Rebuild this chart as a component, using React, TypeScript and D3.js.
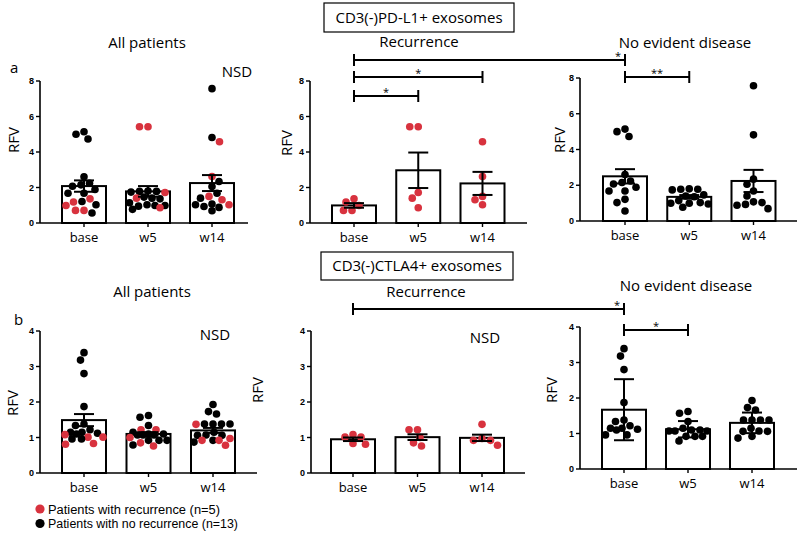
import React from "react";
import * as d3 from "d3";

// ---------- DATA ----------
const categories = ["base", "w5", "w14"];

// CD3(-)PD-L1+ exosomes, patients with recurrence (red, n=5)
const pdl1RecBase = [1.36, 0.99, 1.18, 0.71, 0.71];
const pdl1RecW5 = [5.42, 5.42, 1.72, 1.4, 0.86];
const pdl1RecW14 = [4.58, 2.62, 1.5, 1.31, 1.03];
// CD3(-)PD-L1+ exosomes, no evident disease (black, n=13)
const pdl1NedBase = [5.0, 4.73, 5.14, 2.6, 2.24, 2.15, 2.07, 1.89, 1.68, 1.68, 1.21, 1.03, 0.56];
const pdl1NedW5 = [1.74, 1.8, 1.78, 1.78, 1.46, 1.4, 1.36, 0.99, 0.95, 1.03, 0.99, 1.14, 0.77];
const pdl1NedW14 = [7.57, 4.82, 2.34, 2.06, 1.68, 1.4, 1.03, 0.93, 0.69, 0.88, 1.07];

// CD3(-)CTLA4+ exosomes
const ctlaRecBase = [1.01, 1.08, 1.01, 0.81, 0.83];
const ctlaRecW5 = [1.22, 1.22, 1.0, 0.85, 0.76];
const ctlaRecW14 = [1.37, 0.92, 0.92, 0.97, 0.78];
const ctlaNedBase = [3.39, 3.18, 2.8, 1.87, 1.34, 1.38, 1.12, 1.1, 1.22, 1.15, 1.15, 0.96, 0.96];
const ctlaNedW5 = [1.62, 1.57, 1.34, 1.1, 1.07, 1.07, 1.1, 1.07, 1.15, 0.92, 0.92, 0.92, 0.79];
const ctlaNedW14 = [1.93, 1.73, 1.66, 1.38, 1.38, 1.38, 1.38, 1.06, 1.06, 1.15, 1.07, 0.87, 0.92];

// bar heights (mean) and error bars
const pdl1MeanAll = [2.08, 1.78, 2.25];
const pdl1ErrAll = [0.32, 0.3, 0.45];
const pdl1MeanRec = [0.99, 2.97, 2.23];
const pdl1ErrRec = [0.13, 1.0, 0.65];
const pdl1MeanNed = [2.5, 1.35, 2.24];
const pdl1ErrNed = [0.4, 0.1, 0.62];
const ctlaMeanAll = [1.49, 1.1, 1.2];
const ctlaErrAll = [0.17, 0.05, 0.07];
const ctlaMeanRec = [0.95, 1.01, 0.99];
const ctlaErrRec = [0.05, 0.08, 0.09];
const ctlaMeanNed = [1.67, 1.12, 1.3];
const ctlaErrNed = [0.86, 0.23, 0.29];

const pdl1Ticks = [0, 2, 4, 6, 8];
const ctlaTicks = [0, 1, 2, 3, 4];

const legendLabels = ["Patients with recurrence (n=5)", "Patients with no recurrence (n=13)"];

// ---------- STYLE / LAYOUT ----------
const RED = "#d8323e";
const FONT = "'Open Sans', 'Noto Sans', sans-serif";
const TICKFONT = "'Liberation Sans', Arial, sans-serif";
const R = 3.8;

type Panel = {
  key: string;
  axisX: number; axisEnd: number; yTop: number; yBottom: number;
  c0: number; c1: number; max: number; ticks: number[];
  rec: number[][] | null; ned: number[][] | null;
  mean: number[]; err: number[];
  title: string; titleX: number; titleY: number;
  rfvX: number; rfvY: number;
  nsd?: [number, number];
};

const panels: Panel[] = [
  { key: "a1", axisX: 40, axisEnd: 248, yTop: 81, yBottom: 223, c0: 84, c1: 212, max: 8, ticks: pdl1Ticks,
    rec: [pdl1RecBase, pdl1RecW5, pdl1RecW14], ned: [pdl1NedBase, pdl1NedW5, pdl1NedW14],
    mean: pdl1MeanAll, err: pdl1ErrAll, title: "All patients", titleX: 147, titleY: 48, rfvX: 14, rfvY: 140, nsd: [237, 77] },
  { key: "a2", axisX: 310, axisEnd: 527, yTop: 81, yBottom: 223, c0: 354, c1: 482.5, max: 8, ticks: pdl1Ticks,
    rec: [pdl1RecBase, pdl1RecW5, pdl1RecW14], ned: null,
    mean: pdl1MeanRec, err: pdl1ErrRec, title: "Recurrence", titleX: 419, titleY: 47, rfvX: 287, rfvY: 143 },
  { key: "a3", axisX: 580, axisEnd: 797, yTop: 78, yBottom: 221, c0: 625, c1: 753.5, max: 8, ticks: pdl1Ticks,
    rec: null, ned: [pdl1NedBase, pdl1NedW5, pdl1NedW14],
    mean: pdl1MeanNed, err: pdl1ErrNed, title: "No evident disease", titleX: 685, titleY: 48, rfvX: 560, rfvY: 140 },
  { key: "b1", axisX: 40, axisEnd: 257, yTop: 331, yBottom: 473, c0: 84, c1: 213, max: 4, ticks: ctlaTicks,
    rec: [ctlaRecBase, ctlaRecW5, ctlaRecW14], ned: [ctlaNedBase, ctlaNedW5, ctlaNedW14],
    mean: ctlaMeanAll, err: ctlaErrAll, title: "All patients", titleX: 152, titleY: 297, rfvX: 13, rfvY: 403, nsd: [215, 340] },
  { key: "b2", axisX: 311, axisEnd: 525, yTop: 331, yBottom: 473, c0: 353, c1: 482, max: 4, ticks: ctlaTicks,
    rec: [ctlaRecBase, ctlaRecW5, ctlaRecW14], ned: null,
    mean: ctlaMeanRec, err: ctlaErrRec, title: "Recurrence", titleX: 426, titleY: 297, rfvX: 258, rfvY: 390, nsd: [485, 343] },
  { key: "b3", axisX: 580, axisEnd: 797, yTop: 327, yBottom: 469, c0: 624, c1: 752, max: 4, ticks: ctlaTicks,
    rec: null, ned: [ctlaNedBase, ctlaNedW5, ctlaNedW14],
    mean: ctlaMeanNed, err: ctlaErrNed, title: "No evident disease", titleX: 686, titleY: 291, rfvX: 552, rfvY: 390 },
];

type Comp = { from: [string, string]; to: [string, string]; y: number; label: string; atEnd?: boolean };
const comparisons: Comp[] = [
  { from: ["a2", "base"], to: ["a3", "base"], y: 60, label: "*", atEnd: true },
  { from: ["a2", "base"], to: ["a2", "w14"], y: 77, label: "*" },
  { from: ["a2", "base"], to: ["a2", "w5"], y: 96, label: "*" },
  { from: ["a3", "base"], to: ["a3", "w5"], y: 77, label: "**" },
  { from: ["b2", "base"], to: ["b3", "base"], y: 309, label: "*", atEnd: true },
  { from: ["b3", "base"], to: ["b3", "w5"], y: 330, label: "*" },
];

function scalesFor(p: Panel) {
  const x = d3.scalePoint<string>().domain(categories).range([p.c0, p.c1]);
  const y = d3.scaleLinear().domain([0, p.max]).range([p.yBottom, p.yTop]);
  return { x, y };
}

type Pt = { v: number; c: string };
// simple beeswarm: nearest free horizontal slot, limited to the bar width
function swarm(points: Pt[], y: (v: number) => number, cx: number) {
  const gap = 2 * R + 0.6;
  const maxW = 19;
  const sorted = points.map((p, i) => ({ ...p, py: y(p.v), i })).sort((a, b) => a.py - b.py);
  const placed: { x: number; y: number; c: string }[] = [];
  sorted.forEach((p, n) => {
    let chosen: number | null = null;
    let bestOff = 0;
    let bestD = -1;
    for (let s = 0; s <= maxW && chosen === null; s += 0.5) {
      const cands = n % 2 === 0 ? [s, -s] : [-s, s];
      for (const off of cands) {
        let minD = Infinity;
        placed.forEach((q) => {
          const d = Math.hypot(q.x - off, q.y - p.py);
          if (d < minD) minD = d;
        });
        if (minD >= gap) { chosen = off; break; }
        if (minD > bestD + 0.3) { bestD = minD; bestOff = off; }
      }
    }
    placed.push({ x: chosen === null ? bestOff : chosen, y: p.py, c: p.c });
  });
  return placed.map((q) => ({ cx: cx + q.x, cy: q.y, c: q.c }));
}

function PanelView({ p }: { p: Panel }) {
  const { x, y } = scalesFor(p);
  const bw = 44;
  return (
    <g>
      {categories.map((cat, i) => (
        <rect key={"bar" + cat} x={(x(cat) as number) - bw / 2} y={y(p.mean[i])} width={bw}
          height={y(0) - y(p.mean[i])} fill="#fff" stroke="#000" strokeWidth={2} />
      ))}
      {categories.map((cat, i) => {
        const pts: Pt[] = [];
        if (p.ned) p.ned[i].forEach((v) => pts.push({ v, c: "#000" }));
        if (p.rec) p.rec[i].forEach((v) => pts.push({ v, c: RED }));
        return swarm(pts, y, x(cat) as number).map((d, j) => (
          <circle key={"d" + cat + j} cx={d.cx} cy={d.cy} r={R} fill={d.c} />
        ));
      })}
      {categories.map((cat, i) => {
        const cx = x(cat) as number;
        const hi = y(p.mean[i] + p.err[i]);
        const lo = y(Math.max(0, p.mean[i] - p.err[i]));
        return (
          <g key={"e" + cat} stroke="#000" strokeWidth={2}>
            <line x1={cx} x2={cx} y1={hi} y2={lo} />
            <line x1={cx - 10} x2={cx + 10} y1={hi} y2={hi} />
            <line x1={cx - 10} x2={cx + 10} y1={lo} y2={lo} />
          </g>
        );
      })}
      <line x1={p.axisX} x2={p.axisX} y1={p.yTop} y2={p.yBottom} stroke="#000" strokeWidth={1.6} />
      <line x1={p.axisX} x2={p.axisEnd} y1={p.yBottom} y2={p.yBottom} stroke="#000" strokeWidth={1.6} />
      {p.ticks.map((t) => (
        <g key={"t" + t}>
          <line x1={p.axisX - 4} x2={p.axisX} y1={y(t)} y2={y(t)} stroke="#000" strokeWidth={1.4} />
          <text x={p.axisX - 6} y={y(t)} dy="0.35em" textAnchor="end" fontFamily={TICKFONT}
            fontWeight="bold" fontSize={9}>{t}</text>
        </g>
      ))}
      {categories.map((cat) => (
        <g key={"xl" + cat}>
          <line x1={x(cat)} x2={x(cat)} y1={p.yBottom} y2={p.yBottom + 4} stroke="#000" strokeWidth={1.4} />
          <text x={x(cat)} y={p.yBottom + 19} textAnchor="middle" fontFamily={FONT} fontSize={13}>{cat}</text>
        </g>
      ))}
      <text transform={`translate(${p.rfvX},${p.rfvY}) rotate(-90)`} textAnchor="middle" dy="0.35em"
        fontFamily={FONT} fontSize={15}>RFV</text>
      <text x={p.titleX} y={p.titleY} textAnchor="middle" fontFamily={FONT} fontSize={15}>{p.title}</text>
      {p.nsd && (
        <text x={p.nsd[0]} y={p.nsd[1]} textAnchor="middle" fontFamily={FONT} fontSize={15}>NSD</text>
      )}
    </g>
  );
}

function Comparisons() {
  const byKey: Record<string, Panel> = {};
  panels.forEach((p) => (byKey[p.key] = p));
  return (
    <g>
      {comparisons.map((c, i) => {
        const x1 = scalesFor(byKey[c.from[0]]).x(c.from[1]) as number;
        const x2 = scalesFor(byKey[c.to[0]]).x(c.to[1]) as number;
        const lx = c.atEnd ? x2 - 7 : (x1 + x2) / 2;
        return (
          <g key={"c" + i}>
            <g stroke="#000" strokeWidth={2}>
              <line x1={x1} x2={x2} y1={c.y} y2={c.y} />
              <line x1={x1} x2={x1} y1={c.y - 6} y2={c.y + 6} />
              <line x1={x2} x2={x2} y1={c.y - 6} y2={c.y + 6} />
            </g>
            <text x={lx} y={c.y} textAnchor="middle" fontFamily={FONT} fontSize={11}>{c.label}</text>
          </g>
        );
      })}
    </g>
  );
}

export default function App() {
  return (
    <div style={{ position: "absolute", left: 0, top: 0 }}>
      <svg width={800} height={533} viewBox="0 0 800 533" style={{ display: "block", background: "#fff" }}>
        <rect width={800} height={533} fill="#fff" />
        <rect x={324} y={3} width={190} height={29} fill="#fff" stroke="#000" strokeWidth={1.2} />
        <text x={419} y={17.5} dy="0.35em" textAnchor="middle" fontFamily={FONT} fontSize={15}>CD3(-)PD-L1+ exosomes</text>
        <rect x={321} y={252} width={192} height={28} fill="#fff" stroke="#000" strokeWidth={1.2} />
        <text x={417} y={266} dy="0.35em" textAnchor="middle" fontFamily={FONT} fontSize={15}>CD3(-)CTLA4+ exosomes</text>
        <text x={10} y={73} fontFamily={FONT} fontSize={15}>a</text>
        <text x={14} y={325} fontFamily={FONT} fontSize={15}>b</text>
        {panels.map((p) => <PanelView key={p.key} p={p} />)}
        <Comparisons />
        {legendLabels.map((l, i) => (
          <g key={"lg" + i}>
            <circle cx={40} cy={509 + i * 14.5} r={4.6} fill={i === 0 ? RED : "#000"} />
            <text x={48} y={509 + i * 14.5} dy="0.36em" fontFamily={TICKFONT} fontSize={12.5}
              textLength={i === 0 ? 172 : 190} lengthAdjust="spacingAndGlyphs">{l}</text>
          </g>
        ))}
      </svg>
    </div>
  );
}
